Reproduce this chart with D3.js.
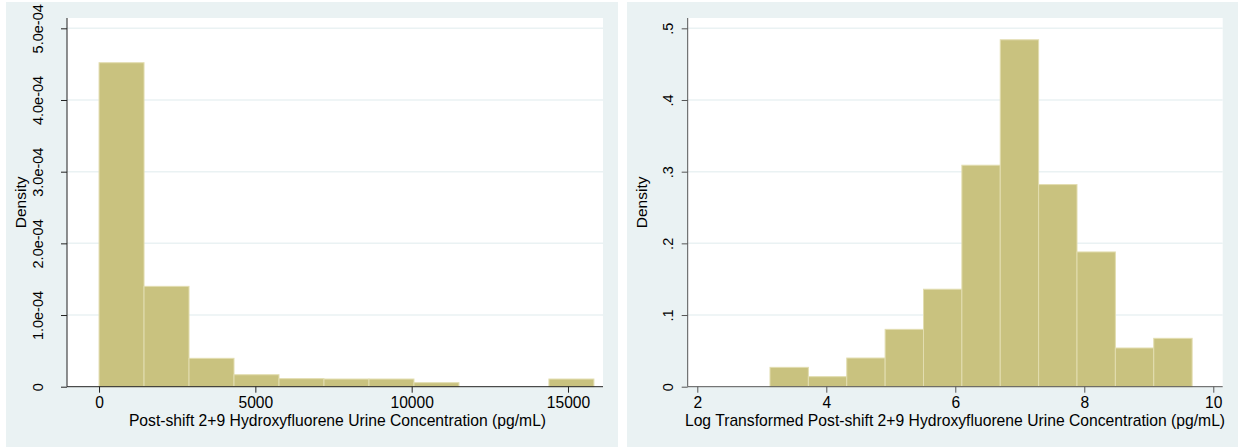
<!DOCTYPE html>
<html>
<head>
<meta charset="utf-8">
<script src="https://cdn.jsdelivr.net/npm/d3@7"></script>
<style>
  body { margin: 0; background: #ffffff; }
  svg { display: block; }
  text { font-family: "Liberation Sans", Arial, sans-serif; fill: #000; }
</style>
</head>
<body>
<svg id="chart" width="1238" height="447"></svg>
<script>
// left histogram: raw concentration
var leftBinStart = 0;
var leftBinWidth = 1439;
var leftDensity = [4.52e-4, 1.40e-4, 0.396e-4, 0.167e-4, 0.112e-4, 0.107e-4, 0.107e-4, 0.056e-4, 0, 0, 0.107e-4];
var leftXTicks = [0, 5000, 10000, 15000];
var leftYTicks = [0, 1e-4, 2e-4, 3e-4, 4e-4, 5e-4];
var leftYLabels = ["0", "1.0e-04", "2.0e-04", "3.0e-04", "4.0e-04", "5.0e-04"];
var leftTitle = "Post-shift 2+9 Hydroxyfluorene Urine Concentration (pg/mL)";

// right histogram: log transformed
var rightBinStart = 3.127;
var rightBinWidth = 0.595;
var rightDensity = [0.027, 0.014, 0.040, 0.080, 0.136, 0.309, 0.484, 0.282, 0.188, 0.054, 0.0675];
var rightXTicks = [2, 4, 6, 8, 10];
var rightYTicks = [0, 0.1, 0.2, 0.3, 0.4, 0.5];
var rightYLabels = ["0", ".1", ".2", ".3", ".4", ".5"];
var rightTitle = "Log Transformed Post-shift 2+9 Hydroxyfluorene Urine Concentration (pg/mL)";

var BG = "#eaf2f3";
var BAR_FILL = "#c9c27f";
var BAR_STROKE = "#e2ddb0";
var PLOT_TOP = 18;
var PLOT_BOTTOM = 386.7;
var FONT = "Liberation Sans, Arial, sans-serif";

var svg = d3.select("#chart");

var drawPanel = function(p) {
    var g = svg.append("g");
    g.append("rect")
        .attr("x", p.panelX).attr("y", 2)
        .attr("width", p.panelW).attr("height", 447)
        .style("fill", BG);
    g.append("rect")
        .attr("x", p.plotL).attr("y", PLOT_TOP)
        .attr("width", p.plotR - p.plotL).attr("height", PLOT_BOTTOM - PLOT_TOP)
        .style("fill", "#ffffff");

    var x = d3.scaleLinear().domain(p.xDomain).range([p.plotL, p.plotR]);
    var y = d3.scaleLinear().domain(p.yDomain).range([PLOT_BOTTOM, PLOT_TOP]);

    // grid
    g.selectAll(".grid").data(p.yTicks.slice(1)).enter().append("line")
        .attr("x1", p.plotL).attr("x2", p.plotR)
        .attr("y1", function(d) { return y(d); })
        .attr("y2", function(d) { return y(d); })
        .style("stroke", BG).style("stroke-width", 1.5);

    // bars
    g.selectAll(".bar").data(p.density).enter().append("rect")
        .attr("x", function(d, i) { return x(p.binStart + i * p.binWidth); })
        .attr("width", function(d, i) { return x(p.binStart + (i + 1) * p.binWidth) - x(p.binStart + i * p.binWidth); })
        .attr("y", function(d) { return y(d); })
        .attr("height", function(d) { return PLOT_BOTTOM - y(d); })
        .style("fill", BAR_FILL)
        .style("stroke", function(d) { return d > 0 ? BAR_STROKE : "none"; })
        .style("stroke-width", 1);

    // axes
    var xAxis = d3.axisBottom(x).tickValues(p.xTicks).tickSize(6).tickFormat(d3.format("d"));
    var gx = g.append("g").attr("transform", "translate(0," + PLOT_BOTTOM + ")").call(xAxis);
    gx.select(".domain").attr("d", "M" + p.plotL + ",0H" + p.plotR).style("stroke", p.axisColor);
    gx.selectAll(".tick line").style("stroke", p.axisColor);
    gx.selectAll(".tick text").attr("y", 10).attr("dy", "0.71em")
        .style("font-size", "15.6px").style("font-family", FONT).style("fill", "#000");

    var yAxis = d3.axisLeft(y).tickValues(p.yTicks).tickSize(6).tickFormat(function(d, i) { return p.yLabels[i]; });
    var gy = g.append("g").attr("transform", "translate(" + p.plotL + ",0)").call(yAxis);
    gy.select(".domain").attr("d", "M0," + PLOT_BOTTOM + "V" + PLOT_TOP).style("stroke", p.axisColor);
    gy.selectAll(".tick line").style("stroke", p.axisColor);
    gy.selectAll(".tick text")
        .attr("x", null).attr("dy", null)
        .attr("text-anchor", "middle")
        .attr("transform", "translate(" + (p.yLabelX - p.plotL) + ",0) rotate(-90)")
        .style("font-size", "14.5px").style("font-family", FONT).style("fill", "#000");

    // titles
    g.append("text")
        .attr("x", p.titleX)
        .attr("y", 426)
        .attr("text-anchor", "middle")
        .style("font-size", "15.7px")
        .text(p.title);
    g.append("text")
        .attr("transform", "translate(" + p.densityX + "," + ((PLOT_TOP + PLOT_BOTTOM) / 2) + ") rotate(-90)")
        .attr("text-anchor", "middle")
        .style("font-size", "15.5px")
        .text("Density");
}

drawPanel({
    panelX: 6, panelW: 612,
    plotL: 67, plotR: 603,
    xDomain: [-1025, 16120], yDomain: [0, 5.144e-4],
    binStart: leftBinStart, binWidth: leftBinWidth, density: leftDensity,
    xTicks: leftXTicks, yTicks: leftYTicks, yLabels: leftYLabels,
    yLabelX: 43, densityX: 26, titleX: 337.5, title: leftTitle,
    axisColor: "#222"
});

drawPanel({
    panelX: 627, panelW: 611,
    plotL: 687.7, plotR: 1222.7,
    xDomain: [1.851, 10.146], yDomain: [0, 0.5144],
    binStart: rightBinStart, binWidth: rightBinWidth, density: rightDensity,
    xTicks: rightXTicks, yTicks: rightYTicks, yLabels: rightYLabels,
    yLabelX: 673, densityX: 647, titleX: 955, title: rightTitle,
    axisColor: "#555"
});
</script>
</body>
</html>
